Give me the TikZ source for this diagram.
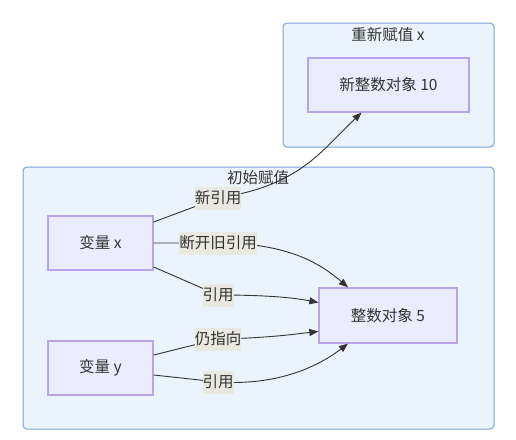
\documentclass[tikz,border=0pt]{standalone}
\usepackage{fontspec}
\setmainfont{Noto Sans CJK SC}
\usetikzlibrary{arrows.meta}
\definecolor{clfill}{HTML}{EBF3FC}
\definecolor{cldraw}{HTML}{7BA4D4}
\definecolor{ndfill}{HTML}{ECECFF}
\definecolor{nddraw}{HTML}{B9A3E9}
\definecolor{lbfill}{HTML}{E9E8E1}
\definecolor{txt}{HTML}{333333}
\tikzset{
  cluster/.style={draw=cldraw, fill=clfill, line width=1pt, rounded corners=4pt},
  ctitle/.style={text=txt, font=\fontsize{15.5}{18}\selectfont, inner sep=0pt},
  nodebox/.style={draw=nddraw, fill=ndfill, line width=1.3pt, text=txt,
     font=\fontsize{15.5}{18}\selectfont, inner sep=0pt},
  elabel/.style={fill=lbfill, text=txt, font=\fontsize{15.5}{18}\selectfont,
     inner xsep=0pt, inner ysep=0pt, minimum height=23pt},
  edge/.style={draw=txt, line width=0.9pt, -{Triangle[length=9pt,width=7pt]}}
}
\begin{document}
\begin{tikzpicture}[x=1pt,y=-1pt]
\useasboundingbox[fill=white] (0,0) rectangle (516,439);
% clusters
\draw[cluster] (23,167) rectangle (494,429);
\draw[cluster] (283,23) rectangle (494,147);
\node[ctitle] (t1) at (258,178) {初始赋值};
\node[ctitle] (t2) at (388,35) {重新赋值 x};
% nodes
\node[nodebox, minimum width=161pt, minimum height=54pt] (n10) at (388.5,85) {新整数对象 10};
\node[nodebox, minimum width=105pt, minimum height=54pt] (vx) at (100.5,243) {变量 x};
\node[nodebox, minimum width=105pt, minimum height=54pt] (vy) at (100.5,368) {变量 y};
\node[nodebox, minimum width=138pt, minimum height=55pt] (n5) at (388,315.5) {整数对象 5};
% label anchors
\coordinate (c1) at (218,198);
\coordinate (c2) at (218,243);
\coordinate (c3) at (218,295);
\coordinate (c4) at (218,339);
\coordinate (c5) at (218,382);
% edges
\draw[edge] ([yshift=21pt]vx.east) -- (c1) .. controls (300,186) and (322,150) .. ([xshift=-27pt]n10.south);
\draw[edge] (vx.east) -- (c2) .. controls (290,243) and (322,265) .. ([xshift=-40pt]n5.north);
\draw[edge] ([yshift=-24pt]vx.east) -- (c3) .. controls (270,295) and (295,298) .. ([yshift=13pt]n5.west);
\draw[edge] ([yshift=13pt]vy.east) -- (c4) .. controls (270,338) and (295,334) .. ([yshift=-16pt]n5.west);
\draw[edge] ([yshift=-7pt]vy.east) -- (c5) .. controls (280,386) and (320,365) .. ([xshift=-40pt]n5.south);
% labels
\node[elabel] (l1) at (c1) {新引用};
\node[elabel] (l2) at (c2) {断开旧引用};
\node[elabel] (l3) at (c3) {引用};
\node[elabel] (l4) at (c4) {仍指向};
\node[elabel] (l5) at (c5) {引用};
\end{tikzpicture}
\end{document}
